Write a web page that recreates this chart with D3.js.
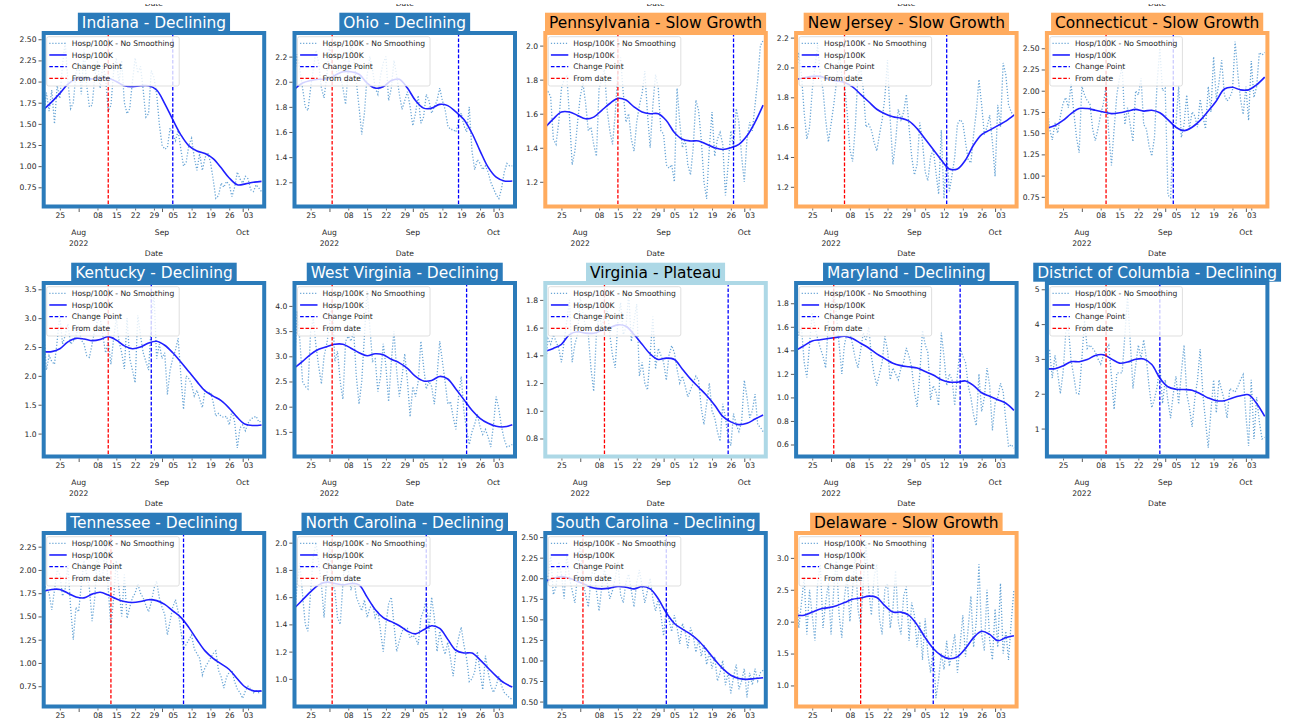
<!DOCTYPE html>
<html>
<head>
<meta charset="utf-8">
<script src="https://cdn.jsdelivr.net/npm/d3@7"></script>
<style>
  html, body { margin: 0; padding: 0; background: #ffffff; }
  svg { display: block; font-family: "DejaVu Sans", "Liberation Sans", sans-serif; }
</style>
</head>
<body>
<svg id="chart" width="1293" height="724"></svg>
<script>
// ---- Data -----------------------------------------------------------------
const states = ["Indiana", "Ohio", "Pennsylvania", "New Jersey", "Connecticut",
                "Kentucky", "West Virginia", "Virginia", "Maryland", "District of Columbia",
                "Tennessee", "North Carolina", "South Carolina", "Delaware"];
const trends = ["Declining", "Declining", "Slow Growth", "Slow Growth", "Slow Growth",
                "Declining", "Declining", "Plateau", "Declining", "Declining",
                "Declining", "Declining", "Declining", "Slow Growth"];

// daily series start here; smoothed series are sampled every 3 days
const startDate = "2022-07-19";
const endDate = "2022-10-09";
const smoothStepDays = 3;

const changePoints = ["2022-09-05", "2022-09-18", "2022-09-27", "2022-09-13", "2022-09-04",
                      "2022-08-28", "2022-09-21", "2022-09-25", "2022-09-18", "2022-08-30",
                      "2022-09-09", "2022-09-06", "2022-09-02", "2022-09-08"];
const fromDates = ["2022-08-12", "2022-08-02", "2022-08-15", "2022-08-06", "2022-08-10",
                   "2022-08-12", "2022-08-02", "2022-08-10", "2022-08-02", "2022-08-10",
                   "2022-08-13", "2022-08-02", "2022-08-02", "2022-08-12"];

const yLimits = [[0.523, 2.574], [1.007, 2.388], [1.055, 2.074], [1.068, 2.231], [0.636, 2.68],
                 [0.603, 3.609], [1.011, 4.455], [0.670, 1.922], [0.498, 1.972], [0.198, 5.18],
                 [0.532, 2.397], [0.797, 2.071], [0.44, 2.55], [0.67, 3.39]];

const yTickLabels = [
  ["0.75", "1.00", "1.25", "1.50", "1.75", "2.00", "2.25", "2.50"],
  ["1.2", "1.4", "1.6", "1.8", "2.0", "2.2"],
  ["1.2", "1.4", "1.6", "1.8", "2.0"],
  ["1.2", "1.4", "1.6", "1.8", "2.0", "2.2"],
  ["0.75", "1.00", "1.25", "1.50", "1.75", "2.00", "2.25", "2.50"],
  ["1.0", "1.5", "2.0", "2.5", "3.0", "3.5"],
  ["1.5", "2.0", "2.5", "3.0", "3.5", "4.0"],
  ["0.8", "1.0", "1.2", "1.4", "1.6", "1.8"],
  ["0.6", "0.8", "1.0", "1.2", "1.4", "1.6", "1.8"],
  ["1", "2", "3", "4", "5"],
  ["0.75", "1.00", "1.25", "1.50", "1.75", "2.00", "2.25"],
  ["1.0", "1.2", "1.4", "1.6", "1.8", "2.0"],
  ["0.50", "0.75", "1.00", "1.25", "1.50", "1.75", "2.00", "2.25", "2.50"],
  ["1.0", "1.5", "2.0", "2.5", "3.0"]
];

// Hospitalisations per 100K, no smoothing (daily)
const rawIndiana = [1.55,1.87,1.65,1.90,1.50,1.95,1.80,2.20,2.47,2.00, 1.68,1.75,2.10,2.22,1.85,2.38,1.95,1.70,1.72,2.05,
  2.25,1.92,2.20,2.05,1.65,1.72,2.12,2.28,1.98,2.25, 1.75,1.62,1.68,2.00,2.28,2.10,2.18,1.90,1.58,1.62,
  2.13,2.05,1.85,1.50,1.25,1.20,1.22,1.45,1.38,1.30, 1.42,1.20,1.00,1.05,1.25,1.33,1.10,0.95,1.15,0.95,
  1.10,1.16,1.05,0.85,0.62,0.65,0.80,0.75,0.82,0.78, 0.64,0.75,0.93,0.85,0.80,0.88,0.85,0.72,0.70,0.78, 0.74,0.70];
const rawOhio = [2.05,2.22,2.10,1.95,1.80,1.77,1.95,2.10,2.25,2.15, 1.95,1.87,2.05,2.30,2.10,2.00,2.12,2.05,1.95,1.82,
  2.10,2.30,2.20,2.00,1.80,1.58,1.75,2.05,2.20,2.10, 1.95,1.90,2.05,2.15,2.20,1.85,1.95,2.17,2.05,1.90,
  1.78,1.85,1.92,1.80,1.65,1.75,1.89,1.67,1.72,1.90, 1.85,1.75,1.80,1.85,1.95,1.85,1.78,1.65,1.62,1.62,
  1.60,1.68,1.75,1.65,1.60,1.80,1.45,1.30,1.38,1.35, 1.30,1.33,1.28,1.20,1.15,1.10,1.07,1.15,1.28,1.35, 1.33,1.33];
const rawPennsylvania = [1.72,1.73,1.70,1.45,1.42,1.55,1.75,1.80,1.82,1.58, 1.30,1.38,1.55,1.70,1.78,1.66,1.50,1.52,1.42,1.35,
  1.75,1.80,1.86,1.62,1.50,1.42,1.60,1.85,1.93,1.72, 1.55,1.60,1.45,1.38,1.55,1.65,1.72,1.85,1.60,1.40,
  1.65,1.83,1.75,1.50,1.48,1.30,1.28,1.30,1.20,1.75, 1.55,1.40,1.45,1.30,1.24,1.40,1.68,1.62,1.45,1.20,
  1.10,1.40,1.61,1.35,1.45,1.49,1.42,1.12,1.30,1.50, 1.40,1.63,1.55,1.35,1.20,1.45,1.55,1.50,1.65,1.80, 2.00,2.03];
const rawNewJersey = [1.95,2.10,1.95,1.70,1.52,1.60,1.85,2.00,2.15,1.95, 1.85,1.65,1.50,1.62,1.75,1.90,2.10,1.95,1.88,1.70,
  1.45,1.37,1.60,1.95,2.00,1.85,1.60,1.62,1.58,1.50, 1.44,1.55,1.65,1.80,2.05,1.65,1.35,1.50,1.72,1.65,
  1.70,1.82,1.60,1.40,1.28,1.35,1.63,1.50,1.30,1.24, 1.40,1.45,1.30,1.15,1.58,1.12,1.43,1.17,1.28,1.40,
  1.62,1.65,1.63,1.50,1.38,1.36,1.55,1.70,1.92,1.75, 1.55,1.60,1.68,1.50,1.27,1.75,1.60,2.03,1.95,1.75, 1.70,1.68];
const rawConnecticut = [1.85,1.55,1.42,1.62,1.50,1.70,1.85,1.92,1.80,2.08, 1.75,1.45,1.27,2.05,1.95,1.88,1.85,1.55,1.41,1.55,
  1.72,1.85,2.05,1.50,1.12,1.55,1.95,2.15,2.28,1.60, 1.80,1.60,1.40,2.00,1.95,2.15,1.60,1.55,1.35,1.23,
  1.45,2.10,2.50,2.00,2.03,0.77,0.74,1.55,1.60,2.05, 1.45,1.60,1.95,1.55,1.75,1.70,1.57,1.90,1.70,1.55,
  2.05,1.75,2.40,1.90,2.10,2.36,1.95,1.88,1.92,2.00, 2.58,2.20,1.90,1.72,2.05,1.65,2.35,1.92,2.05,2.45, 2.42,2.45];
const rawKentucky = [2.80,2.10,2.35,2.25,2.20,2.60,3.05,2.55,2.70,2.90, 2.55,2.60,2.70,2.85,2.62,2.55,2.35,2.32,2.55,2.80,
  2.95,3.00,2.70,2.40,2.60,2.20,2.65,3.00,2.60,2.40, 2.12,3.00,2.30,2.10,1.88,3.05,2.70,2.40,2.25,2.10,
  2.90,3.45,2.30,2.55,2.30,2.40,1.68,2.10,2.30,2.45, 2.65,2.00,1.42,2.00,1.95,1.85,1.65,1.75,1.60,1.45,
  1.75,1.70,1.72,1.55,1.30,1.35,1.30,1.28,1.30,1.15, 1.40,1.20,0.75,1.10,1.15,1.05,1.18,1.25,1.28,1.30, 1.20,1.22];
const rawWestVirginia = [2.80,3.90,3.30,2.50,2.40,2.35,3.50,3.75,3.20,2.80, 2.45,3.00,3.25,3.60,4.10,2.90,3.10,2.50,2.15,3.30,
  3.40,3.30,3.50,2.60,2.05,2.50,3.40,4.30,3.60,2.90, 2.95,2.30,2.60,3.25,2.80,2.10,2.90,3.50,2.70,2.20,
  2.60,3.05,2.50,1.80,2.40,2.20,2.50,3.30,2.80,2.35, 2.50,2.40,2.05,2.60,3.30,2.90,2.50,2.05,2.10,1.80,
  1.55,2.20,2.60,1.90,1.55,1.25,1.50,1.65,1.85,1.60, 1.45,1.55,1.40,1.20,1.65,2.20,1.95,1.60,1.35,1.20, 1.22,1.25];
const rawVirginia = [1.30,1.52,1.48,1.55,1.50,1.45,1.35,1.50,1.65,1.80, 1.35,1.48,1.55,1.82,1.70,1.60,1.55,1.30,1.14,1.55,
  1.70,1.60,1.68,1.75,1.55,1.40,1.31,1.65,1.78,1.55, 1.60,1.85,1.50,1.65,1.77,1.25,1.35,1.20,1.15,1.40,
  1.68,1.30,1.45,1.40,1.35,1.22,1.40,1.47,1.42,1.30, 1.20,1.25,1.18,1.10,1.15,1.20,1.25,1.22,1.02,0.90,
  1.05,1.20,1.00,0.95,0.85,0.78,1.05,0.95,0.80,0.75, 0.98,0.90,0.85,0.92,1.22,1.10,0.95,1.00,1.12,0.90, 0.88,0.85];
const rawMaryland = [1.45,1.55,1.60,1.30,1.17,1.45,1.72,1.60,1.50,1.42, 1.35,1.25,1.65,1.75,1.90,1.70,1.45,1.20,1.45,1.55,
  1.55,1.45,1.33,1.25,1.40,1.55,1.48,1.60,1.35,1.20, 1.10,1.20,1.30,1.52,1.40,1.15,1.25,1.20,1.15,1.25,
  1.30,1.42,1.35,1.25,1.05,0.92,1.20,1.57,1.45,1.38, 0.98,1.10,1.05,0.93,1.55,1.35,1.10,1.20,1.15,0.93,
  1.20,1.42,1.35,1.30,1.10,1.00,0.85,0.76,1.20,0.88, 1.00,1.25,1.10,0.72,0.95,1.00,1.12,1.05,0.80,0.58, 0.60,0.57];
const rawDistrictOfColumbia = [3.30,3.25,2.45,3.10,2.60,2.00,2.60,3.75,3.90,2.95, 2.50,2.00,2.00,3.00,4.10,3.30,3.40,3.30,3.20,3.00,
  2.85,3.10,3.30,3.40,2.50,1.55,2.60,2.60,2.60,3.70, 4.80,3.50,2.15,2.80,3.40,3.00,3.55,3.00,2.20,1.60,
  1.85,2.20,2.85,1.72,2.40,1.80,1.30,2.00,2.50,1.70, 2.60,3.40,2.00,1.60,1.05,1.85,2.40,3.28,2.00,1.20,
  0.45,1.50,2.40,1.45,2.40,2.10,1.80,1.30,2.15,2.10, 2.05,2.20,2.40,2.55,1.40,0.50,2.40,0.70,1.90,1.20, 0.70,0.75];
const rawTennessee = [1.85,1.80,1.75,1.57,1.78,2.00,1.95,1.72,1.80,2.05, 1.60,1.25,1.60,1.55,1.85,2.10,1.95,1.80,1.45,1.70,
  2.20,1.90,1.95,2.30,1.80,1.38,1.70,2.10,1.80,1.50, 1.95,1.48,1.60,1.70,1.75,1.85,1.75,1.70,1.62,1.55,
  1.65,1.80,1.88,1.70,1.60,1.52,1.30,1.45,1.60,1.68, 1.55,1.35,1.15,1.20,1.25,1.30,1.15,1.10,1.05,0.87,
  0.95,1.00,1.05,1.10,1.13,0.92,0.85,0.73,0.85,0.90, 0.92,0.80,0.72,0.68,0.62,0.70,0.75,0.72,0.68,0.70, 0.68,0.70];
const rawNorthCarolina = [1.45,1.70,1.85,1.62,1.40,1.35,1.65,1.90,2.00,1.85, 1.70,1.45,1.75,2.00,1.70,1.65,1.45,1.40,1.70,1.95,
  1.80,1.65,1.75,1.60,1.55,1.50,1.58,1.45,1.52,1.55, 1.45,1.50,1.35,1.20,1.40,1.55,1.60,1.40,1.20,1.28,
  1.35,1.37,1.37,1.30,1.32,1.30,1.25,1.45,1.50,1.58, 1.35,1.60,1.45,1.20,1.35,1.25,1.18,1.27,1.15,1.02,
  1.20,1.30,1.38,1.25,1.15,0.98,1.00,1.05,1.20,1.05, 0.92,1.17,1.05,0.95,0.90,0.95,1.02,0.95,0.90,0.88, 0.86,0.85];
const rawSouthCarolina = [2.10,1.95,2.30,1.80,1.90,2.20,2.05,1.75,2.30,2.00, 1.85,1.70,2.05,2.45,1.95,1.80,1.65,2.00,2.15,1.85,
  1.60,1.90,2.10,1.95,1.75,1.85,2.00,2.20,1.80,1.70, 1.95,2.05,1.85,1.65,1.95,2.10,1.90,1.70,1.85,2.00,
  1.75,1.60,1.75,1.55,1.30,1.65,1.50,1.35,1.55,1.40, 1.20,1.45,1.35,1.15,1.40,1.30,1.10,1.25,1.05,1.20,
  0.95,1.10,0.90,1.05,0.75,0.85,1.00,0.70,0.85,0.60, 0.80,0.95,0.65,0.75,0.90,0.55,0.85,0.70,0.90,0.75, 0.85,0.88];
const rawDelaware = [2.60,1.90,2.30,2.70,1.80,2.50,2.10,1.70,2.60,2.90, 1.90,2.30,2.60,1.80,2.50,3.00,2.10,1.75,2.40,2.70,
  2.00,2.50,3.10,2.20,1.95,2.60,3.25,2.50,2.10,2.70, 2.90,2.05,1.80,2.50,2.60,1.90,2.20,2.80,2.00,1.80,
  2.40,2.55,1.70,2.30,2.10,1.60,2.00,1.40,2.05,1.50, 1.20,1.60,0.80,1.10,1.50,1.25,1.70,1.30,1.55,1.80,
  1.20,1.65,2.10,1.45,1.90,2.40,1.60,2.00,2.90,1.80, 1.55,2.50,1.70,1.40,2.20,1.60,2.60,1.50,1.85,1.40, 2.00,2.50];

// Smoothed hospitalisations per 100K (every 3 days)
const smoothIndiana = [1.67,1.76,1.86,1.97,2.03,2.04,2.03,2.04,2.04,2.00,1.95,1.94,1.95,1.95,1.90,1.74,1.55,1.37,1.24,1.18,1.15,1.09,0.98,0.86,0.78,0.79,0.81,0.82];
const smoothOhio = [1.94,1.99,2.01,2.02,2.02,2.05,2.08,2.08,2.06,1.99,1.95,1.96,2.01,2.02,1.95,1.85,1.79,1.79,1.82,1.81,1.76,1.70,1.59,1.45,1.32,1.24,1.21,1.21];
const smoothPennsylvania = [1.52,1.57,1.61,1.61,1.59,1.57,1.58,1.62,1.66,1.69,1.68,1.64,1.61,1.60,1.60,1.56,1.49,1.45,1.44,1.44,1.42,1.40,1.39,1.40,1.42,1.47,1.55,1.65];
const smoothNewJersey = [1.92,1.93,1.94,1.94,1.92,1.91,1.90,1.87,1.82,1.77,1.72,1.69,1.67,1.66,1.64,1.59,1.52,1.45,1.38,1.32,1.32,1.38,1.48,1.55,1.58,1.61,1.64,1.68];
const smoothConnecticut = [1.56,1.59,1.65,1.73,1.79,1.79,1.77,1.75,1.73,1.74,1.76,1.78,1.76,1.77,1.74,1.66,1.57,1.53,1.57,1.65,1.76,1.88,2.02,2.04,2.01,2.01,2.07,2.16];
const smoothKentucky = [2.42,2.42,2.47,2.59,2.65,2.64,2.61,2.63,2.68,2.62,2.52,2.47,2.50,2.57,2.60,2.53,2.40,2.24,2.07,1.90,1.74,1.65,1.57,1.44,1.28,1.16,1.14,1.15];
const smoothWestVirginia = [2.77,2.90,3.04,3.14,3.19,3.24,3.24,3.16,3.07,3.01,3.05,3.03,2.94,2.87,2.76,2.60,2.51,2.52,2.60,2.55,2.35,2.14,1.93,1.77,1.67,1.61,1.60,1.64];
const smoothVirginia = [1.43,1.45,1.48,1.55,1.57,1.56,1.56,1.58,1.60,1.62,1.61,1.55,1.48,1.41,1.37,1.38,1.37,1.30,1.23,1.17,1.11,1.04,0.96,0.92,0.90,0.91,0.94,0.97];
const smoothMaryland = [1.40,1.44,1.48,1.49,1.50,1.51,1.52,1.50,1.46,1.42,1.37,1.33,1.29,1.27,1.26,1.25,1.22,1.19,1.15,1.13,1.13,1.14,1.10,1.04,1.01,0.98,0.95,0.89];
const smoothDistrictOfColumbia = [2.72,2.72,2.80,2.92,2.92,2.98,3.10,3.12,3.00,2.88,2.91,2.99,3.00,2.84,2.45,2.20,2.13,2.12,2.10,2.00,1.88,1.80,1.80,1.88,1.94,1.97,1.72,1.35];
const smoothTennessee = [1.77,1.79,1.79,1.75,1.71,1.70,1.74,1.76,1.73,1.69,1.66,1.65,1.66,1.68,1.67,1.63,1.56,1.49,1.38,1.25,1.13,1.05,0.99,0.93,0.83,0.74,0.70,0.70];
const smoothNorthCarolina = [1.52,1.58,1.64,1.69,1.71,1.70,1.69,1.70,1.69,1.60,1.51,1.45,1.42,1.39,1.35,1.33,1.36,1.39,1.37,1.29,1.21,1.19,1.19,1.14,1.08,1.02,0.97,0.94];
const smoothSouthCarolina = [1.96,2.00,2.02,2.00,1.96,1.92,1.88,1.87,1.88,1.90,1.89,1.87,1.90,1.87,1.75,1.58,1.45,1.38,1.32,1.24,1.13,1.01,0.90,0.82,0.78,0.77,0.78,0.79];
const smoothDelaware = [2.10,2.10,2.15,2.20,2.22,2.25,2.30,2.35,2.37,2.40,2.38,2.25,2.15,2.15,2.10,1.95,1.75,1.58,1.47,1.42,1.45,1.58,1.75,1.85,1.80,1.70,1.75,1.78];

const rawSeries = [rawIndiana, rawOhio, rawPennsylvania, rawNewJersey, rawConnecticut,
  rawKentucky, rawWestVirginia, rawVirginia, rawMaryland, rawDistrictOfColumbia,
  rawTennessee, rawNorthCarolina, rawSouthCarolina, rawDelaware];
const smoothSeries = [smoothIndiana, smoothOhio, smoothPennsylvania, smoothNewJersey, smoothConnecticut,
  smoothKentucky, smoothWestVirginia, smoothVirginia, smoothMaryland, smoothDistrictOfColumbia,
  smoothTennessee, smoothNorthCarolina, smoothSouthCarolina, smoothDelaware];

const legendLabels = ["Hosp/100K - No Smoothing", "Hosp/100K", "Change Point", "From date"];

// ---- Styling & layout -------------------------------------------------------
const trendFill = { "Declining": "#2b7bba", "Slow Growth": "#ffab5e", "Plateau": "#add8e6" };
const trendText = { "Declining": "#ffffff", "Slow Growth": "#000000", "Plateau": "#000000" };
const rawColor = "#6aa6d6";
const smoothColor = "#1f1fff";
const textColor = "#262626";
const smallFont = 7.6;

const W = 1293, H = 724;
const nCols = 5;
const left0 = 43.7, top0 = 33, colStep = 250.8, rowStep = 250;
const pw = 220.5, ph = 173.5;

const parse = d3.utcParse("%Y-%m-%d");
const t0 = parse(startDate);
const t1 = parse(endDate);

const svg = d3.select("#chart");
const defs = svg.append("defs");

const legendStyles = [
  { stroke: rawColor, dash: "1.2,1.8", width: 1.3 },
  { stroke: smoothColor, dash: null, width: 1.6 },
  { stroke: "#0000ff", dash: "3.6,1.8", width: 1.3 },
  { stroke: "#ff0000", dash: "3.6,1.8", width: 1.3 }
];

states.forEach((name, i) => {
  const r = Math.floor(i / nCols), c = i % nCols;
  const L = left0 + c * colStep, T = top0 + r * rowStep;
  const trend = trends[i];
  const accent = trendFill[trend];
  // labels below the axis that would start past the bottom edge are left out
  const fits = yy => T + yy - 6 < H;

  const g = svg.append("g").attr("transform", `translate(${L},${T})`);
  const x = d3.scaleUtc().domain([t0, t1]).range([0, pw]);
  const y = d3.scaleLinear().domain(yLimits[i]).range([ph, 0]);

  defs.append("clipPath").attr("id", `plot-clip-${i}`)
    .append("rect").attr("width", pw).attr("height", ph);

  const plot = g.append("g").attr("clip-path", `url(#plot-clip-${i})`);

  const raw = rawSeries[i].map((v, k) => ({ date: d3.utcDay.offset(t0, k), v }));
  const smooth = smoothSeries[i].map((v, k) => ({ date: d3.utcDay.offset(t0, k * smoothStepDays), v }));

  plot.append("path").datum(raw)
    .attr("fill", "none").attr("stroke", rawColor).attr("stroke-width", 1.3)
    .attr("stroke-dasharray", "1.2,1.8")
    .attr("d", d3.line().x(d => x(d.date)).y(d => y(d.v)));

  plot.append("path").datum(smooth)
    .attr("fill", "none").attr("stroke", smoothColor).attr("stroke-width", 1.6)
    .attr("d", d3.line().curve(d3.curveCatmullRom.alpha(0.5)).x(d => x(d.date)).y(d => y(d.v)));

  const cp = parse(changePoints[i]), fd = parse(fromDates[i]);
  plot.append("line").attr("x1", x(cp)).attr("x2", x(cp)).attr("y1", 0).attr("y2", ph)
    .attr("stroke", "#0000ff").attr("stroke-width", 1.3).attr("stroke-dasharray", "3.6,1.8");
  plot.append("line").attr("x1", x(fd)).attr("x2", x(fd)).attr("y1", 0).attr("y2", ph)
    .attr("stroke", "#ff0000").attr("stroke-width", 1.3).attr("stroke-dasharray", "3.6,1.8");

  // legend (upper left, translucent frame)
  const lg = g.append("g").attr("transform", "translate(3,3.7)");
  const lgFrame = lg.append("rect").attr("rx", 2).attr("ry", 2)
    .attr("fill", "#ffffff").attr("fill-opacity", 0.8)
    .attr("stroke", "#cccccc").attr("stroke-opacity", 0.8).attr("stroke-width", 0.8)
    .attr("height", 49.3);
  let maxW = 0;
  legendLabels.forEach((lab, j) => {
    const yy = 6.6 + j * 11.67;
    const st = legendStyles[j];
    const ln = lg.append("line").attr("x1", 2.6).attr("x2", 20).attr("y1", yy).attr("y2", yy)
      .attr("stroke", st.stroke).attr("stroke-width", st.width);
    if (st.dash) ln.attr("stroke-dasharray", st.dash);
    const t = lg.append("text").attr("x", 25).attr("y", yy).attr("dy", "0.35em")
      .attr("font-size", smallFont).attr("fill", textColor).text(lab);
    maxW = Math.max(maxW, t.node().getComputedTextLength());
  });
  lgFrame.attr("width", 25 + maxW + 5);

  // frame (coloured spines)
  g.append("rect").attr("width", pw).attr("height", ph)
    .attr("fill", "none").attr("stroke", accent).attr("stroke-width", 4);

  // y axis
  const yVals = yTickLabels[i].map(Number);
  const yAxis = g.append("g").attr("transform", "translate(-2,0)")
    .call(d3.axisLeft(y).tickValues(yVals).tickFormat((d, j) => yTickLabels[i][j])
      .tickSize(3.2).tickPadding(2));
  yAxis.select(".domain").remove();
  yAxis.selectAll(".tick line").attr("stroke", "#333").attr("stroke-width", 0.8);
  yAxis.selectAll(".tick text").attr("font-size", smallFont).attr("fill", textColor)
    .attr("font-family", "DejaVu Sans, sans-serif");

  // x axis: weekly minor labels and month majors
  const monthStarts = d3.utcMonth.range(d3.utcMonth.ceil(t0), t1);
  const weekly = d3.utcMonday.range(t0, t1).filter(d => d.getUTCDate() !== 1);
  const xMinor = g.append("g").attr("transform", `translate(0,${ph + 2})`)
    .call(d3.axisBottom(x).tickValues(weekly).tickFormat(d3.utcFormat("%d"))
      .tickSize(2).tickPadding(2.2));
  xMinor.select(".domain").remove();
  xMinor.selectAll(".tick line").attr("stroke", "#333").attr("stroke-width", 0.7);
  xMinor.selectAll(".tick text").attr("font-size", smallFont).attr("fill", textColor)
    .attr("font-family", "DejaVu Sans, sans-serif");

  const xMajor = g.append("g").attr("transform", `translate(0,${ph + 2})`)
    .call(d3.axisBottom(x).tickValues(monthStarts).tickFormat("").tickSize(3.5));
  xMajor.select(".domain").remove();
  xMajor.selectAll(".tick line").attr("stroke", "#333").attr("stroke-width", 0.8);

  monthStarts.forEach((m, j) => {
    if (fits(202)) {
      g.append("text").attr("x", x(m)).attr("y", 202).attr("text-anchor", "middle")
        .attr("font-size", smallFont).attr("fill", textColor).text(d3.utcFormat("%b")(m));
    }
    if (j === 0 && fits(212.5)) {
      g.append("text").attr("x", x(m)).attr("y", 212.5).attr("text-anchor", "middle")
        .attr("font-size", smallFont).attr("fill", textColor).text(d3.utcFormat("%Y")(m));
    }
  });

  if (fits(223)) {
    g.append("text").attr("x", pw / 2).attr("y", 223).attr("text-anchor", "middle")
      .attr("font-size", smallFont).attr("fill", textColor).text("Date");
  }

  // title with coloured box
  const title = g.append("text").attr("x", pw / 2).attr("y", -5.2).attr("text-anchor", "middle")
    .attr("font-size", 15.4).attr("fill", trendText[trend]).text(`${name} - ${trend}`);
  const tw = title.node().getComputedTextLength();
  g.insert("rect", () => title.node())
    .attr("x", pw / 2 - tw / 2 - 4).attr("y", -20.3).attr("width", tw + 8).attr("height", 19)
    .attr("fill", accent);
});

// x-axis labels of the row above, mostly outside the top edge
defs.append("clipPath").attr("id", "top-clip")
  .append("rect").attr("x", 0).attr("y", 3.9).attr("width", W).attr("height", 10);
const topLabels = svg.append("g").attr("clip-path", "url(#top-clip)");
for (let c = 0; c < nCols; c++) {
  topLabels.append("text").attr("x", left0 + c * colStep + pw / 2).attr("y", top0 + 223 - rowStep)
    .attr("text-anchor", "middle").attr("font-size", smallFont).attr("fill", textColor).text("Date");
}
</script>
</body>
</html>
